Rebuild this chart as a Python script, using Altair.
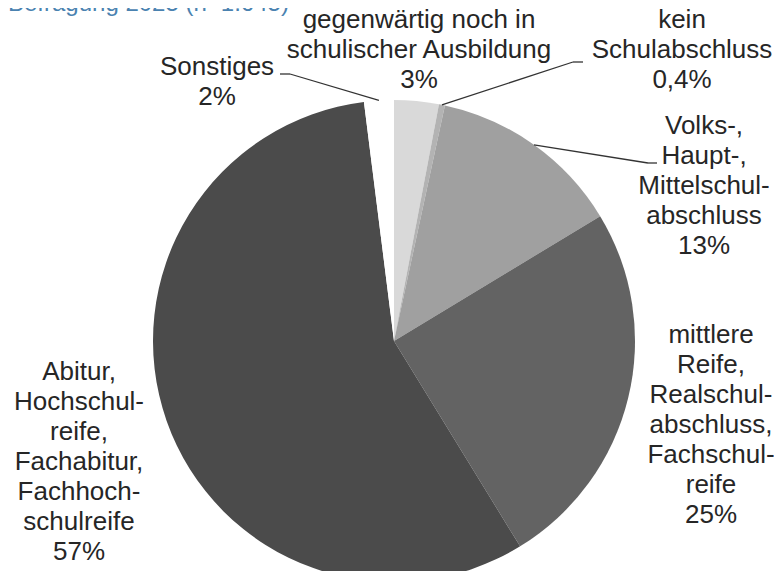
import math
import altair as alt
import pandas as pd

# ---- data ----
categories = [
    "gegenwärtig noch in schulischer Ausbildung",
    "kein Schulabschluss",
    "Volks-, Haupt-, Mittelschulabschluss",
    "mittlere Reife, Realschulabschluss, Fachschulreife",
    "Abitur, Hochschulreife, Fachabitur, Fachhochschulreife",
    "Sonstiges",
]
values = [3, 0.4, 13, 25, 57, 2]
label_texts = [
    "gegenwärtig noch in\nschulischer Ausbildung",
    "kein\nSchulabschluss",
    "Volks-,\nHaupt-,\nMittelschul-\nabschluss",
    "mittlere\nReife,\nRealschul-\nabschluss,\nFachschul-\nreife",
    "Abitur,\nHochschul-\nreife,\nFachabitur,\nFachhoch-\nschulreife",
    "Sonstiges",
]
pct_labels = ["3%", "0,4%", "13%", "25%", "57%", "2%"]
title_text = "Befragung 2025 (n=1.645)"

# ---- style ----
colors = ["#d9d9d9", "#b3b3b3", "#a0a0a0", "#636363", "#4b4b4b", "#ffffff"]
W, H = 766, 563
CX, CY, R = 386, 333, 241
FONT = "Liberation Sans"
FS = 26
LH = 30
TXT = "#262626"
# label block centre offsets from pie centre (style)
label_offset = {
    categories[0]: (25, -291),
    categories[1]: (288, -291),
    categories[2]: (310, -155),
    categories[3]: (317, 84),
    categories[4]: (-315, 121),
    categories[5]: (-177, -259),
}
# leader line elbow/end points (style)
leaders = {
    categories[1]: ((565, 54), (575, 54)),
    categories[2]: ((640, 155), (649, 155)),
    categories[5]: ((282, 66), (272, 66)),
}

df = pd.DataFrame({
    "cat": categories,
    "value": values,
    "order": list(range(len(categories))),
    "label": [t + "\n" + p for t, p in zip(label_texts, pct_labels)],
})

pie = alt.Chart(df).mark_arc(outerRadius=R, stroke=None).encode(
    theta=alt.Theta("value:Q", stack=True),
    order=alt.Order("order:Q"),
    color=alt.Color("cat:N", scale=alt.Scale(domain=categories, range=colors), legend=None),
    x=alt.value(CX),
    y=alt.value(CY),
)

layers = [pie]

for c, lab in zip(categories, df["label"]):
    dx, dy = label_offset[c]
    n = lab.count("\n") + 1
    layers.append(
        alt.Chart(df).transform_filter(alt.datum.cat == c).mark_text(
            font=FONT, fontSize=FS, lineHeight=LH, color=TXT,
            align="center", baseline="middle", lineBreak="\n",
        ).encode(text="label:N", x=alt.value(CX + dx),
                 y=alt.value(CY + dy - (n - 1) * LH / 2))
    )

total = sum(values)
cum = 0.0
for c, v in zip(categories, values):
    mid = (cum + v / 2) / total * 2 * math.pi
    cum += v
    if c in leaders:
        sx = CX + R * math.sin(mid)
        sy = CY - R * math.cos(mid)
        (ex, ey), (fx, fy) = leaders[c]
        layers.append(
            alt.Chart(df).transform_filter(alt.datum.cat == c).mark_rule(
                color="#333333", strokeWidth=1.3
            ).encode(x=alt.value(sx), y=alt.value(sy), x2=alt.value(ex), y2=alt.value(ey))
        )
        layers.append(
            alt.Chart(df).transform_filter(alt.datum.cat == c).mark_rule(
                color="#333333", strokeWidth=1.3
            ).encode(x=alt.value(ex), y=alt.value(ey), x2=alt.value(fx), y2=alt.value(fy))
        )

title = alt.Chart(df).transform_filter(alt.datum.order == 0).mark_text(
    text=title_text, font=FONT, fontSize=24, color="#4a82b0",
    align="left", baseline="alphabetic",
).encode(x=alt.value(0), y=alt.value(3))
layers.append(title)

chart = alt.layer(*layers).properties(
    width=W, height=H,
    autosize=alt.AutoSizeParams(type="none"),
    padding=0,
).configure_view(stroke=None)

chart.save("out.html", embed_options={"renderer": "svg", "actions": False})
